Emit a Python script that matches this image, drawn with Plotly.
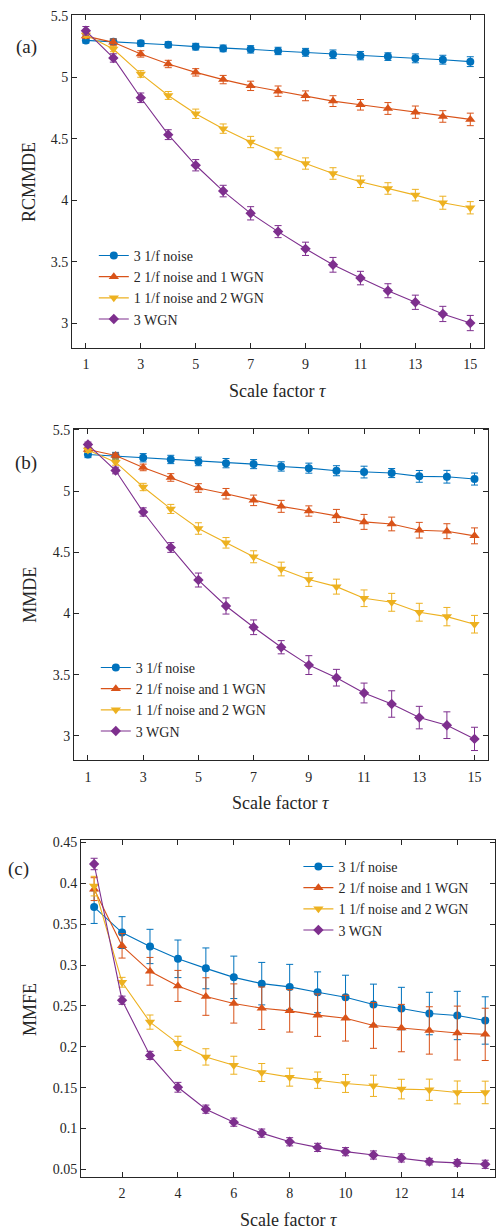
import plotly.graph_objects as go

# Scale factors
tau = list(range(1, 16))

series_names = ["3 1/f noise", "2 1/f noise and 1 WGN", "1 1/f noise and 2 WGN", "3 WGN"]
colors = ["#0072BD", "#D95319", "#EDB120", "#7E2F8E"]
symbols = ["circle", "triangle-up", "triangle-down", "diamond"]
marker_sizes = [8, 9, 9, 8]

# (a) RCMMDE mean values and standard deviations
rcmmde_pink = [5.30, 5.29, 5.276, 5.265, 5.249, 5.235, 5.227, 5.214, 5.203, 5.187, 5.176, 5.168, 5.154, 5.143, 5.127]
rcmmde_pink_sd = [0.022, 0.022, 0.024, 0.024, 0.027, 0.027, 0.030, 0.030, 0.032, 0.035, 0.034, 0.031, 0.036, 0.036, 0.040]
rcmmde_mix21 = [5.335, 5.284, 5.19, 5.108, 5.04, 4.981, 4.93, 4.887, 4.849, 4.806, 4.776, 4.746, 4.716, 4.681, 4.657]
rcmmde_mix21_sd = [0.020, 0.027, 0.026, 0.030, 0.030, 0.034, 0.038, 0.042, 0.040, 0.044, 0.043, 0.048, 0.050, 0.047, 0.051]
rcmmde_mix12 = [5.343, 5.23, 5.027, 4.852, 4.703, 4.582, 4.473, 4.379, 4.298, 4.217, 4.15, 4.095, 4.041, 3.979, 3.938]
rcmmde_mix12_sd = [0.020, 0.022, 0.027, 0.032, 0.038, 0.038, 0.046, 0.046, 0.046, 0.047, 0.047, 0.047, 0.047, 0.053, 0.050]
rcmmde_wgn = [5.378, 5.157, 4.833, 4.533, 4.284, 4.074, 3.893, 3.744, 3.604, 3.474, 3.366, 3.263, 3.169, 3.074, 3.0]
rcmmde_wgn_sd = [0.035, 0.034, 0.039, 0.040, 0.046, 0.047, 0.054, 0.049, 0.054, 0.060, 0.055, 0.057, 0.058, 0.062, 0.062]

# (b) MMDE mean values and standard deviations
mmde_pink = [5.299, 5.286, 5.272, 5.258, 5.242, 5.228, 5.220, 5.201, 5.187, 5.166, 5.155, 5.147, 5.120, 5.117, 5.098]
mmde_pink_sd = [0.026, 0.030, 0.034, 0.034, 0.035, 0.038, 0.037, 0.038, 0.041, 0.041, 0.048, 0.037, 0.048, 0.052, 0.049]
mmde_mix21 = [5.34, 5.29, 5.193, 5.111, 5.025, 4.978, 4.924, 4.875, 4.837, 4.797, 4.748, 4.731, 4.68, 4.672, 4.634]
mmde_mix21_sd = [0.015, 0.020, 0.027, 0.031, 0.035, 0.043, 0.043, 0.049, 0.042, 0.053, 0.061, 0.056, 0.064, 0.061, 0.065]
mmde_mix12 = [5.335, 5.236, 5.033, 4.854, 4.694, 4.577, 4.463, 4.363, 4.278, 4.219, 4.124, 4.091, 4.01, 3.974, 3.912]
mmde_mix12_sd = [0.020, 0.025, 0.030, 0.037, 0.047, 0.043, 0.049, 0.056, 0.057, 0.061, 0.068, 0.073, 0.073, 0.075, 0.072]
mmde_wgn = [5.38, 5.168, 4.829, 4.539, 4.273, 4.061, 3.887, 3.724, 3.578, 3.475, 3.35, 3.26, 3.149, 3.087, 2.975]
mmde_wgn_sd = [0.020, 0.027, 0.034, 0.040, 0.057, 0.066, 0.060, 0.054, 0.077, 0.068, 0.081, 0.108, 0.092, 0.109, 0.095]

# (c) MMFE mean values and standard deviations
mmfe_pink = [0.371, 0.3398, 0.3228, 0.3077, 0.296, 0.285, 0.2773, 0.2733, 0.2667, 0.2606, 0.2517, 0.2468, 0.2407, 0.2383, 0.2322]
mmfe_pink_sd = [0.020, 0.0195, 0.021, 0.023, 0.025, 0.026, 0.026, 0.0276, 0.025, 0.027, 0.025, 0.026, 0.026, 0.0296, 0.029]
mmfe_mix21 = [0.393, 0.3236, 0.2924, 0.2745, 0.2615, 0.253, 0.2472, 0.244, 0.2387, 0.235, 0.2261, 0.2229, 0.22, 0.2168, 0.2152]
mmfe_mix21_sd = [0.014, 0.015, 0.017, 0.019, 0.023, 0.024, 0.026, 0.026, 0.026, 0.028, 0.028, 0.029, 0.029, 0.033, 0.032]
mmfe_mix12 = [0.3967, 0.279, 0.2302, 0.2042, 0.1876, 0.1774, 0.1685, 0.1628, 0.1591, 0.1551, 0.1522, 0.1482, 0.1474, 0.1441, 0.1441]
mmfe_mix12_sd = [0.012, 0.006, 0.0087, 0.0087, 0.010, 0.011, 0.011, 0.011, 0.010, 0.011, 0.013, 0.012, 0.013, 0.014, 0.0138]
mmfe_wgn = [0.4238, 0.257, 0.1894, 0.1504, 0.1236, 0.1077, 0.0943, 0.0837, 0.0768, 0.0716, 0.0675, 0.0639, 0.0594, 0.0578, 0.0561]
mmfe_wgn_sd = [0.007, 0.005, 0.005, 0.006, 0.005, 0.005, 0.005, 0.005, 0.005, 0.005, 0.005, 0.005, 0.004, 0.004, 0.005]

panels = [
    dict(means=[rcmmde_pink, rcmmde_mix21, rcmmde_mix12, rcmmde_wgn],
         sds=[rcmmde_pink_sd, rcmmde_mix21_sd, rcmmde_mix12_sd, rcmmde_wgn_sd]),
    dict(means=[mmde_pink, mmde_mix21, mmde_mix12, mmde_wgn],
         sds=[mmde_pink_sd, mmde_mix21_sd, mmde_mix12_sd, mmde_wgn_sd]),
    dict(means=[mmfe_pink, mmfe_mix21, mmfe_mix12, mmfe_wgn],
         sds=[mmfe_pink_sd, mmfe_mix21_sd, mmfe_mix12_sd, mmfe_wgn_sd]),
]

W, H = 496, 1232
FONT = "Liberation Serif"
INK = "#262626"


def px_x(x):
    return x / W


def px_y(y):
    return 1 - y / H


fig = go.Figure()

legend_ids = ["legend", "legend2", "legend3"]
for p, panel in enumerate(panels):
    sfx = "" if p == 0 else str(p + 1)
    for k in range(4):
        fig.add_trace(go.Scatter(
            x=tau, y=panel["means"][k], name=series_names[k],
            mode="lines+markers",
            line=dict(color=colors[k], width=1.1),
            marker=dict(symbol=symbols[k], size=marker_sizes[k], color=colors[k],
                        line=dict(width=0)),
            error_y=dict(type="data", array=panel["sds"][k], visible=True,
                         color=colors[k], thickness=1, width=3.5),
            xaxis="x" + sfx, yaxis="y" + sfx,
            legend=legend_ids[p],
        ))

axis_common = dict(showline=True, linecolor=INK, linewidth=1, mirror="ticks",
                   ticks="inside", ticklen=5, tickcolor=INK, tickwidth=1,
                   showgrid=False, zeroline=False,
                   tickfont=dict(family=FONT, size=14, color=INK))

layout = dict(
    width=W, height=H, margin=dict(l=0, r=0, t=0, b=0),
    paper_bgcolor="white", plot_bgcolor="white",
    font=dict(family=FONT, color=INK),
    showlegend=True,
    # (a)
    xaxis=dict(domain=[px_x(72.3), px_x(485)], range=[0.5, 15.5],
               tickvals=list(range(1, 16, 2)), anchor="y", ticklabelstandoff=4, **axis_common),
    yaxis=dict(domain=[px_y(343.3), px_y(9)], range=[2.8, 5.507],
               tickvals=[3, 3.5, 4, 4.5, 5, 5.5], ticktext=["3", "3.5", "4", "4.5", "5", "5.5"],
               anchor="x", **axis_common),
    # (b)
    xaxis2=dict(domain=[px_x(74.3), px_x(489.3)], range=[0.5, 15.5],
                tickvals=list(range(1, 16, 2)), anchor="y2", ticklabelstandoff=4, **axis_common),
    yaxis2=dict(domain=[px_y(758), px_y(424.7)], range=[2.8, 5.51],
                tickvals=[3, 3.5, 4, 4.5, 5, 5.5], ticktext=["3", "3.5", "4", "4.5", "5", "5.5"],
                anchor="x2", **axis_common),
    # (c)
    xaxis3=dict(domain=[px_x(81.3), 1.0], range=[0.535, 15.35],
                tickvals=list(range(2, 15, 2)), anchor="y3", ticklabelstandoff=3, **axis_common),
    yaxis3=dict(domain=[px_y(1176.7), px_y(838.3)], range=[0.0406, 0.4529],
                tickvals=[0.05, 0.1, 0.15, 0.2, 0.25, 0.3, 0.35, 0.4, 0.45],
                ticktext=["0.05", "0.1", "0.15", "0.2", "0.25", "0.3", "0.35", "0.4", "0.45"],
                anchor="x3", **axis_common),
)

legend_style = dict(bgcolor="rgba(0,0,0,0)", borderwidth=0, xanchor="left", yanchor="top",
                    font=dict(family=FONT, size=14, color=INK), tracegroupgap=0)
layout["legend"] = dict(x=px_x(94), y=px_y(235), **legend_style)
layout["legend2"] = dict(x=px_x(96), y=px_y(649), **legend_style)
layout["legend3"] = dict(x=px_x(299), y=px_y(849), **legend_style)

fig.update_layout(**layout)


def label(text, x, y, size, angle=0):
    fig.add_annotation(text=text, x=px_x(x), y=px_y(y), xref="paper", yref="paper",
                       showarrow=False, textangle=angle, xanchor="center", yanchor="middle",
                       font=dict(family=FONT, size=size, color=INK))


# Panel tags
label("(a)", 26.7, 41.7, 19)
label("(b)", 26, 459.3, 19)
label("(c)", 19, 867.7, 19)

# Axis titles
label("RCMMDE", 29.3, 176.7, 18, -90)
label("MMDE", 30, 591.7, 18, -90)
label("MMFE", 30, 1008, 18, -90)
label("Scale factor <i>τ</i>", 278.5, 386.7, 18)
label("Scale factor <i>τ</i>", 280.8, 800.7, 18)
label("Scale factor <i>τ</i>", 289.2, 1220, 18)

fig.write_html("out.html")
